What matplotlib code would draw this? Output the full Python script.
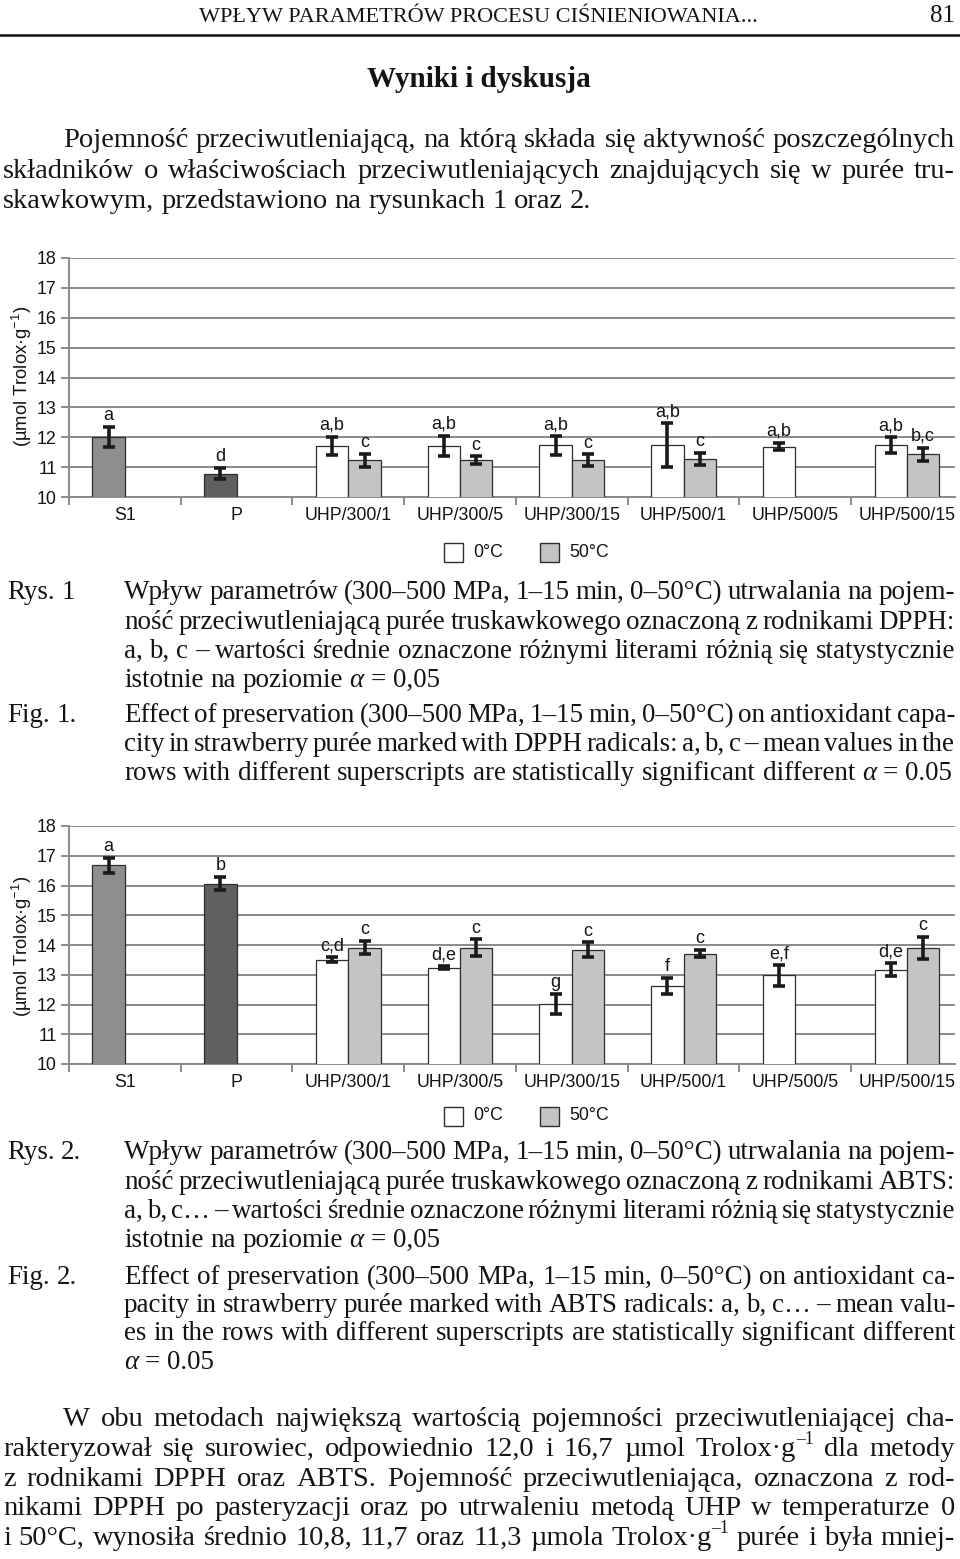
import matplotlib
matplotlib.use("Agg")
import matplotlib.pyplot as plt
from matplotlib.patches import Rectangle
import numpy as np

W, H = 960, 1559

# ---- dane wykresów ----
categories = ["S1", "P", "UHP/300/1", "UHP/300/5", "UHP/300/15",
              "UHP/500/1", "UHP/500/5", "UHP/500/15"]

# Rys. 1 - DPPH
dpph_ctrl = [12.0, 10.78]
dpph_ctrl_err = [0.34, 0.19]
dpph_ctrl_lbl = ["a", "d"]
dpph_0c = [11.71, 11.71, 11.73, 11.74, 11.69, 11.74]
dpph_0c_err = [0.31, 0.34, 0.31, 0.74, 0.13, 0.26]
dpph_0c_lbl = ["a,b", "a,b", "a,b", "a,b", "a,b", "a,b"]
dpph_50c = [11.23, 11.23, 11.23, 11.28, np.nan, 11.43]
dpph_50c_err = [0.22, 0.13, 0.20, 0.20, np.nan, 0.22]
dpph_50c_lbl = ["c", "c", "c", "c", "", "b,c"]

# Rys. 2 - ABTS
abts_ctrl = [16.68, 16.06]
abts_ctrl_err = [0.25, 0.22]
abts_ctrl_lbl = ["a", "b"]
abts_0c = [13.51, 13.24, 12.02, 12.62, 12.98, 13.17]
abts_0c_err = [0.07, 0.06, 0.34, 0.27, 0.35, 0.22]
abts_0c_lbl = ["c,d", "d,e", "g", "f", "e,f", "d,e"]
abts_50c = [13.91, 13.91, 13.84, 13.71, np.nan, 13.91]
abts_50c_err = [0.22, 0.28, 0.25, 0.12, np.nan, 0.37]
abts_50c_lbl = ["c", "c", "c", "c", "", "c"]

legend_labels = ["0°C", "50°C"]
y_label = r"(µmol Trolox·g$^{-1}$)"

# ---- teksty strony ----  (^ = indeks górny)
header = "WPŁYW PARAMETRÓW PROCESU CIŚNIENIOWANIA..."
page_no = "81"
heading = "Wyniki i dyskusja"
intro_lines = [
    "Pojemność przeciwutleniającą, na którą składa się aktywność poszczególnych",
    "składników o właściwościach przeciwutleniających znajdujących się w purée tru-",
    "skawkowym, przedstawiono na rysunkach 1 oraz 2.",
]
cap1_pl = [
    "Wpływ parametrów (300–500 MPa, 1–15 min, 0–50°C) utrwalania na pojem-",
    "ność przeciwutleniającą purée truskawkowego oznaczoną z rodnikami DPPH:",
    "a, b, c – wartości średnie oznaczone różnymi literami różnią się statystycznie",
    "istotnie na poziomie α = 0,05",
]
cap1_en = [
    "Effect of preservation (300–500 MPa, 1–15 min, 0–50°C) on antioxidant capa-",
    "city in strawberry purée marked with DPPH radicals: a, b, c – mean values in the",
    "rows with different superscripts are statistically significant different α = 0.05",
]
cap2_pl = [
    "Wpływ parametrów (300–500 MPa, 1–15 min, 0–50°C) utrwalania na pojem-",
    "ność przeciwutleniającą purée truskawkowego oznaczoną z rodnikami ABTS:",
    "a, b, c… – wartości średnie oznaczone różnymi literami różnią się statystycznie",
    "istotnie na poziomie α = 0,05",
]
cap2_en = [
    "Effect of preservation (300–500 MPa, 1–15 min, 0–50°C) on antioxidant ca-",
    "pacity in strawberry purée marked with ABTS radicals: a, b, c… – mean valu-",
    "es in the rows with different superscripts are statistically significant different",
    "α = 0.05",
]
outro_lines = [
    "W obu metodach największą wartością pojemności przeciwutleniającej cha-",
    "rakteryzował się surowiec, odpowiednio 12,0 i 16,7 µmol Trolox·g^–1 dla metody",
    "z rodnikami DPPH oraz ABTS. Pojemność przeciwutleniająca, oznaczona z rod-",
    "nikami DPPH po pasteryzacji oraz po utrwaleniu metodą UHP w temperaturze 0",
    "i 50°C, wynosiła średnio 10,8, 11,7 oraz 11,3 µmola Trolox·g^–1 purée i była mniej-",
]

SERIF = "Liberation Serif"
SANS = "Liberation Sans"
BODY = 20.5    # tekst główny
CAP = 19.44    # podpisy rysunków (27 px)
TXT = "#141414"

plt.rcParams["mathtext.fontset"] = "custom"
plt.rcParams["mathtext.rm"] = SANS
plt.rcParams["mathtext.it"] = SANS + ":italic"

fig = plt.figure(figsize=(W / 100, H / 100), dpi=100)
renderer = fig.canvas.get_renderer()


def fx(x):
    return x / W


def fy(y):
    return 1 - y / H


def make_word(w, x, y, size):
    """Zwraca listę (artist, szerokość) dla jednego słowa."""
    if "^" in w:
        base, sup = w.split("^")
        pieces = [(base, size, 0), (sup, size * 0.62, size * 0.42 * 100 / 72)]
    else:
        pieces = [(w, size, 0)]
    out = []
    for txt, sz, rise in pieces:
        style = "italic" if txt == "α" else "normal"
        a = fig.text(fx(x), fy(y - rise), txt, fontsize=sz, family=SERIF,
                     style=style, color=TXT, va="baseline", ha="left")
        out.append((a, a.get_window_extent(renderer).width))
    return out


def text_line(s, x0, y, x1=None, size=BODY):
    """Rysuje linię tekstu słowo po słowie; z x1 - wyjustowana."""
    words = [make_word(w, x0, y, size) for w in s.split(" ")]
    widths = [sum(wd for _, wd in parts) for parts in words]
    space = 0.25 * size * 100 / 72
    if x1 is not None and len(words) > 1:
        gap = max((x1 - x0 - sum(widths)) / (len(words) - 1), 0.35 * space)
    else:
        gap = space
    x = x0
    for parts in words:
        for a, wd in parts:
            a.set_x(fx(x))
            x += wd
        x += gap


def paragraph(lines, x0, x1, ys, indent=0, size=BODY, justify_last=False):
    for i, (s, y) in enumerate(zip(lines, ys)):
        last = i == len(lines) - 1 and not justify_last
        text_line(s, x0 + (indent if i == 0 else 0), y, None if last else x1, size)


def draw_chart(top, bottom, ctrl, ctrl_err, ctrl_lbl, v0, e0, l0, v50, e50, l50,
               ylabel_y, legend_y):
    ax = fig.add_axes([fx(69), fy(bottom), (955 - 69) / W, (bottom - top) / H])
    x = np.arange(len(categories))
    bw = 0.29
    grey = "#8a8a8a"

    xc = x[:2] - bw / 2
    ax.bar(xc, ctrl, bw, color=["#8e8e8e", "#606060"], edgecolor="#2e2e2e",
           linewidth=0.9, zorder=3)
    x0 = x[2:] - bw / 2
    x50 = x[2:] + bw / 2
    ax.bar(x0, v0, bw, color="white", edgecolor="#2e2e2e", linewidth=0.9, zorder=3)
    ax.bar(x50, v50, bw, color="#c4c4c4", edgecolor="#2e2e2e", linewidth=0.9, zorder=3)

    for xs, vs, es, ls in [(xc, ctrl, ctrl_err, ctrl_lbl), (x0, v0, e0, l0),
                           (x50, v50, e50, l50)]:
        ax.errorbar(xs, vs, yerr=es, fmt="none", ecolor="#1a1a1a", elinewidth=2.6,
                    capsize=4.5, capthick=2.6, zorder=4)
        for xi, vi, ei, li in zip(xs, vs, es, ls):
            if li and not np.isnan(vi):
                ax.annotate(li, (xi, vi + ei), xytext=(0, 2), textcoords="offset points",
                            ha="center", va="bottom", fontsize=13, family=SANS,
                            color=TXT)

    ax.set_xlim(-0.5, 7.43)
    ax.set_ylim(10, 18)
    ax.set_yticks(range(10, 19))
    ax.yaxis.grid(True, color=grey, linewidth=1.4)
    ax.set_axisbelow(True)
    for side in ["top", "right"]:
        ax.spines[side].set_visible(False)
    for side in ["left", "bottom"]:
        ax.spines[side].set_color(grey)
        ax.spines[side].set_linewidth(1.4)

    ax.set_xticks(np.arange(-0.5, 7.0, 1.0))
    ax.set_xticklabels([])
    ax.set_xticks(x, minor=True)
    ax.set_xticklabels(categories, minor=True, fontsize=12.8, family=SANS, color=TXT)
    ax.tick_params(axis="x", which="major", length=6, width=1.4, color=grey)
    ax.tick_params(axis="x", which="minor", length=0, pad=7)
    ax.tick_params(axis="y", length=6, width=1.4, color=grey, labelsize=12.8,
                   labelcolor=TXT, pad=3)
    for t in ax.get_yticklabels():
        t.set_family(SANS)

    fig.text(fx(22), fy(ylabel_y), y_label, rotation=90, ha="center", va="center",
             fontsize=13.2, family=SANS, color=TXT)

    # legenda
    for xs, col, lab in [(444, "white", legend_labels[0]), (540, "#c4c4c4", legend_labels[1])]:
        fig.add_artist(Rectangle((fx(xs), fy(legend_y + 10)), 19 / W, 19 / H,
                                 transform=fig.transFigure, facecolor=col,
                                 edgecolor="#2e2e2e", linewidth=1.0))
        fig.text(fx(xs + 29), fy(legend_y), lab, ha="left", va="center",
                 fontsize=12.8, family=SANS, color=TXT)
    return ax


# ---- nagłówek ----
fig.text(fx(478), fy(22), header, ha="center", va="baseline", fontsize=16,
         family=SERIF, color=TXT)
fig.text(fx(955), fy(22), page_no, ha="right", va="baseline", fontsize=18,
         family=SERIF, color=TXT)
fig.add_artist(plt.Line2D([0, 1], [fy(35), fy(35)], color="#111111", linewidth=1.8,
                          transform=fig.transFigure))
fig.text(fx(479), fy(87), heading, ha="center", va="baseline", fontsize=21,
         weight="bold", family=SERIF, color=TXT)
paragraph(intro_lines, 3, 955, [147, 178, 208], indent=60)

# ---- Rys. 1 ----
draw_chart(258, 497, dpph_ctrl, dpph_ctrl_err, dpph_ctrl_lbl, dpph_0c, dpph_0c_err,
           dpph_0c_lbl, dpph_50c, dpph_50c_err, dpph_50c_lbl, 376, 552)
text_line("Rys. 1", 7, 599, size=CAP)
paragraph(cap1_pl, 124, 955, [599, 629, 658, 687], size=CAP)
text_line("Fig. 1.", 7, 722, size=CAP)
paragraph(cap1_en, 124, 955, [722, 751, 780], size=CAP)

# ---- Rys. 2 ----
draw_chart(826, 1064, abts_ctrl, abts_ctrl_err, abts_ctrl_lbl, abts_0c, abts_0c_err,
           abts_0c_lbl, abts_50c, abts_50c_err, abts_50c_lbl, 946, 1116)
text_line("Rys. 2.", 7, 1159, size=CAP)
paragraph(cap2_pl, 124, 955, [1159, 1189, 1218, 1247], size=CAP)
text_line("Fig. 2.", 7, 1284, size=CAP)
paragraph(cap2_en, 124, 955, [1284, 1312, 1340, 1369], size=CAP)

# ---- tekst końcowy (ciąg dalszy na następnej stronie) ----
paragraph(outro_lines, 3, 955, [1426, 1456, 1486, 1515, 1545], indent=60,
          justify_last=True)

fig.savefig("out.png", dpi=100)
